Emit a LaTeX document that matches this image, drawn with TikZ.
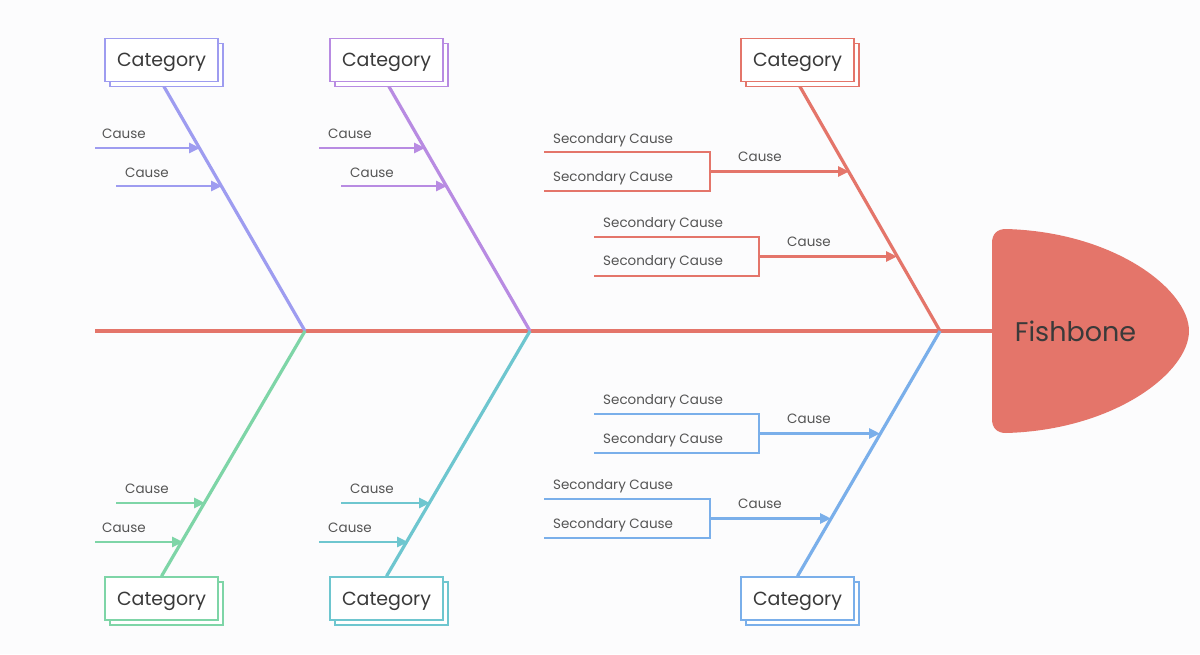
\documentclass[tikz,border=0pt]{standalone}
\usepackage{fontspec}
\setmainfont{Poppins}
\usetikzlibrary{arrows.meta,shadows}
\definecolor{bgc}{HTML}{FCFCFD}
\definecolor{cred}{HTML}{E4756A}
\definecolor{cpa}{HTML}{9E9CF0}
\definecolor{cpb}{HTML}{B88BE2}
\definecolor{cgr}{HTML}{7ED5A7}
\definecolor{ctl}{HTML}{6EC6CF}
\definecolor{cbl}{HTML}{7AAFEA}
\definecolor{txt}{HTML}{3A3A3A}
\definecolor{ltxt}{HTML}{555555}
\pgfdeclarelayer{bg}
\pgfsetlayers{bg,main}
\begin{document}
\begin{tikzpicture}[x=1pt,y=-1pt,
  cat/.style={draw=#1, line width=1.6pt, fill=white, minimum width=113pt, minimum height=43pt,
    inner sep=0pt, text depth=0pt, font=\fontsize{19}{19}\selectfont, text=txt,
    copy shadow={shadow xshift=5pt, shadow yshift=-5pt}},
  bone/.style={draw=#1, line width=3.2pt},
  arr/.style={draw=#1, line width=2.8pt, -{Triangle[length=11pt,width=10pt]}},
  brk/.style={draw=#1, line width=2.8pt},
  lbl/.style={anchor=base west, inner sep=0pt, font=\fontsize{13.5}{14}\selectfont, text=ltxt}]
\useasboundingbox (0,0) rectangle (1200,654);

% joints
\coordinate (tail) at (95,331);
\coordinate (j1) at (305,331);
\coordinate (j2) at (530,331);
\coordinate (j3) at (940,331);
\coordinate (hw) at (992,331);

% head
\fill[cred] (1006,229) .. controls (1115,232) and (1189,290) .. (1189,331)
  .. controls (1189,372) and (1115,430) .. (1006,433)
  .. controls (997,433) and (992,428) .. (992,419) -- (992,243)
  .. controls (992,234) and (997,229) .. (1006,229) -- cycle;
\node[font=\fontsize{27}{27}\selectfont, text=txt, text depth=0pt, inner sep=0pt] (head) at (1075.5,331.5) {Fishbone};

% category boxes
\node[cat=cpa] (b1) at (161.5,60) {Category};
\node[cat=cpb] (b2) at (386.5,60) {Category};
\node[cat=cred] (b3) at (797.5,60) {Category};
\node[cat=cgr] (b4) at (161.5,598.5) {Category};
\node[cat=ctl] (b5) at (386.5,598.5) {Category};
\node[cat=cbl] (b6) at (797.5,598.5) {Category};

\begin{pgfonlayer}{bg}
\fill[bgc] (0,0) rectangle (1200,654);
\draw[bone=cred, line width=3.8pt] (tail) -- (hw);
\draw[bone=cpa] (b1.south) -- (j1);
\draw[bone=cpb] (b2.south) -- (j2);
\draw[bone=cred] (b3.south) -- (j3);
\draw[bone=cgr] (b4.north) -- (j1);
\draw[bone=ctl] (b5.north) -- (j2);
\draw[bone=cbl] (b6.north) -- (j3);
\end{pgfonlayer}

% ---- top-left causes
\coordinate (s11) at (95,148);  \coordinate (e11) at (200,148);
\coordinate (s12) at (116,186); \coordinate (e12) at (222,186);
\draw[arr=cpa] (s11) -- (e11);
\draw[arr=cpa] (s12) -- (e12);
\node[lbl] (l11) at (102,138) {Cause};
\node[lbl] (l12) at (125,177) {Cause};

% ---- top-middle causes
\coordinate (s21) at (319,148); \coordinate (e21) at (425,148);
\coordinate (s22) at (341,186); \coordinate (e22) at (447,186);
\draw[arr=cpb] (s21) -- (e21);
\draw[arr=cpb] (s22) -- (e22);
\node[lbl] (l21) at (328,138) {Cause};
\node[lbl] (l22) at (350,177) {Cause};

% ---- bottom-left causes
\coordinate (s41) at (116,503); \coordinate (e41) at (205,503);
\coordinate (s42) at (95,542);  \coordinate (e42) at (183,542);
\draw[arr=cgr] (s41) -- (e41);
\draw[arr=cgr] (s42) -- (e42);
\node[lbl] (l41) at (125,493) {Cause};
\node[lbl] (l42) at (102,532) {Cause};

% ---- bottom-middle causes
\coordinate (s51) at (341,503); \coordinate (e51) at (430,503);
\coordinate (s52) at (319,542); \coordinate (e52) at (408,542);
\draw[arr=ctl] (s51) -- (e51);
\draw[arr=ctl] (s52) -- (e52);
\node[lbl] (l51) at (350,493) {Cause};
\node[lbl] (l52) at (328,532) {Cause};

% ---- top-right (red) brackets
\coordinate (r1a) at (544,152); \coordinate (r1b) at (710,152);
\coordinate (r1c) at (710,191); \coordinate (r1d) at (544,191);
\coordinate (r1m) at (710,171.5); \coordinate (r1e) at (849,171.5);
\draw[brk=cred] (r1a) -- (r1b) -- (r1c) -- (r1d);
\draw[arr=cred] (r1m) -- (r1e);
\node[lbl] (r1s1) at (553,143) {Secondary Cause};
\node[lbl] (r1s2) at (553,181) {Secondary Cause};
\node[lbl] (r1l) at (738,161) {Cause};

\coordinate (r2a) at (594,237); \coordinate (r2b) at (759,237);
\coordinate (r2c) at (759,276); \coordinate (r2d) at (594,276);
\coordinate (r2m) at (759,256.5); \coordinate (r2e) at (897,256.5);
\draw[brk=cred] (r2a) -- (r2b) -- (r2c) -- (r2d);
\draw[arr=cred] (r2m) -- (r2e);
\node[lbl] (r2s1) at (603,227) {Secondary Cause};
\node[lbl] (r2s2) at (603,265) {Secondary Cause};
\node[lbl] (r2l) at (787,246) {Cause};

% ---- bottom-right (blue) brackets
\coordinate (u1a) at (594,414); \coordinate (u1b) at (759,414);
\coordinate (u1c) at (759,453); \coordinate (u1d) at (594,453);
\coordinate (u1m) at (759,433.5); \coordinate (u1e) at (880,433.5);
\draw[brk=cbl] (u1a) -- (u1b) -- (u1c) -- (u1d);
\draw[arr=cbl] (u1m) -- (u1e);
\node[lbl] (u1s1) at (603,404) {Secondary Cause};
\node[lbl] (u1s2) at (603,443) {Secondary Cause};
\node[lbl] (u1l) at (787,423) {Cause};

\coordinate (u2a) at (544,499); \coordinate (u2b) at (710,499);
\coordinate (u2c) at (710,538); \coordinate (u2d) at (544,538);
\coordinate (u2m) at (710,518.5); \coordinate (u2e) at (831,518.5);
\draw[brk=cbl] (u2a) -- (u2b) -- (u2c) -- (u2d);
\draw[arr=cbl] (u2m) -- (u2e);
\node[lbl] (u2s1) at (553,489) {Secondary Cause};
\node[lbl] (u2s2) at (553,528) {Secondary Cause};
\node[lbl] (u2l) at (738,508) {Cause};
\end{tikzpicture}
\end{document}
